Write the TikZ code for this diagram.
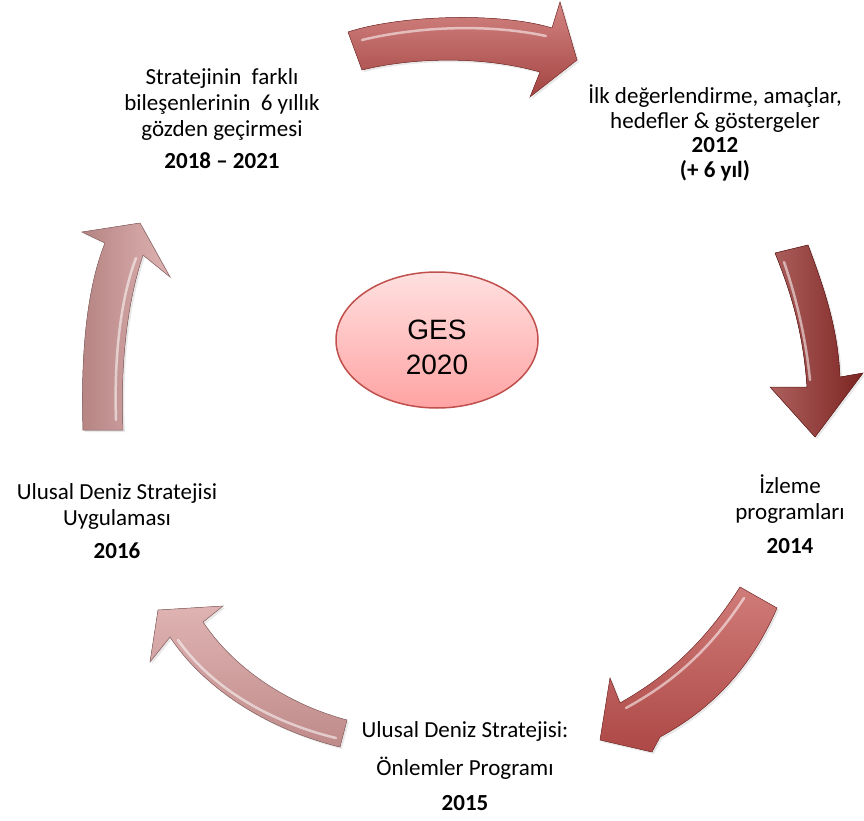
\documentclass[tikz,border=0pt]{standalone}
\usepackage{fontspec}
\setmainfont{Carlito}
\newfontfamily\gesfont{Liberation Sans}
\usepackage{tikz}
\usetikzlibrary{shapes.geometric,shadows}
\usepackage{xcolor}
\definecolor{arrowred}{HTML}{C0504D}
\definecolor{arrowdark}{HTML}{922B28}
\definecolor{arrowpink}{HTML}{D49A99}
\definecolor{gestop}{HTML}{FFE0E0}
\definecolor{gesbottom}{HTML}{FFA3A3}

\tikzset{
  bigarrow/.style={draw=#1!70!black, line width=0.5pt,
    drop shadow={opacity=0.18, shadow xshift=2pt, shadow yshift=-2pt}},
  shine/.style={white, opacity=0.55, line width=2.5pt, line cap=round},
  cycletext/.style={align=center, font=\fontsize{23}{26}\selectfont}
}

\begin{document}
\begin{tikzpicture}[x=1pt, y=-1pt]

  \useasboundingbox (0,0) rectangle (864,821);

  % Centre
  \node[ellipse, draw=arrowred, line width=1.5pt, top color=gestop, bottom color=gesbottom,
        minimum width=202pt, minimum height=136pt] (ges) at (437,340) {};
  \node[align=center, font=\gesfont\fontsize{28}{35}\selectfont] (gestext)
        at ([yshift=-7pt]ges.center) {GES\\2020};

  % Steps
  \node[cycletext] (s2012) at (715,133) {İlk değerlendirme, amaçlar,\\[-1.5pt] hedefler \& göstergeler\\[-1.5pt] \textbf{2012}\\[-1.5pt] \textbf{(+ 6 yıl)}};
  \node[cycletext] (s2014) at (790,514) {İzleme\\ programları\\[8pt] \textbf{2014}};
  \node[cycletext] (s2015) at (465,766) {Ulusal Deniz Stratejisi:\\[12pt] Önlemler Programı\\[9pt] \textbf{2015}};
  \node[cycletext] (s2016) at (117,521) {Ulusal Deniz Stratejisi\\ Uygulaması\\[7pt] \textbf{2016}};
  \node[cycletext] (s2018) at (222,119) {Stratejinin~ farklı\\ bileşenlerinin~ 6 yıllık\\ gözden geçirmesi\\[6pt] \textbf{2018 – 2021}};

  % Arrow 2012
  \fill[bigarrow=arrowred, top color=arrowred!70!white, bottom color=arrowred!85!black]
    (348,32) .. controls (400,15) and (500,12) .. (552,28) -- (560,2) -- (577,60) -- (530,97)
    -- (540,72) .. controls (480,55) and (410,58) .. (362,70) -- cycle;
  \draw[shine] (362,40) .. controls (420,26) and (490,24) .. (546,36);

  % Arrow 2014
  \fill[bigarrow=arrowdark, left color=arrowdark!75!white, right color=arrowdark!85!black]
    (775,253) -- (808,245) .. controls (825,290) and (838,330) .. (840,377) -- (863,373)
    -- (815,437) -- (770,387) -- (807,387) .. controls (803,330) and (790,290) .. (775,253) -- cycle;
  \draw[shine] (784,262) .. controls (797,300) and (806,340) .. (810,380);

  % Arrow 2015
  \fill[bigarrow=arrowred, top color=arrowred!75!white, bottom color=arrowred!90!black]
    (740,587) -- (777,608) .. controls (750,670) and (710,710) .. (660,737) -- (652,752)
    -- (600,740) -- (610,678) -- (620,703) .. controls (660,680) and (700,650) .. (740,587) -- cycle;
  \draw[shine] (744,598) .. controls (706,656) and (666,686) .. (626,708);

  % Arrow 2016
  \fill[bigarrow=arrowpink, top color=arrowpink!75!white, bottom color=arrowpink!90!black]
    (347,720) .. controls (290,705) and (235,670) .. (203,622) -- (223,606) -- (158,610)
    -- (150,662) -- (170,637) .. controls (205,690) and (270,730) .. (340,747) -- cycle;
  \draw[shine] (336,738) .. controls (270,722) and (212,688) .. (178,640);

  % Arrow 2018
  \fill[bigarrow=arrowpink, left color=arrowpink!85!black, right color=arrowpink!75!white]
    (83,430) .. controls (80,340) and (90,280) .. (105,243) -- (82,232) -- (140,223)
    -- (170,277) -- (143,255) .. controls (128,300) and (120,360) .. (123,430) -- cycle;
  \draw[shine] (116,420) .. controls (114,360) and (120,300) .. (136,258);

\end{tikzpicture}
\end{document}
